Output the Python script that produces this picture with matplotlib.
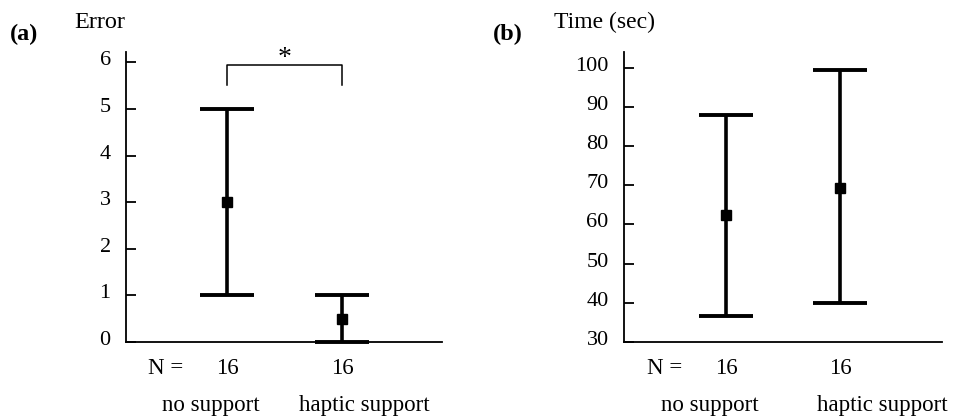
import matplotlib
matplotlib.use("Agg")
import matplotlib.pyplot as plt
import matplotlib.transforms as mtransforms

plt.rcParams['font.family'] = ['Liberation Serif', 'DejaVu Serif']

categories = ["no support", "haptic support"]
n_counts = [16, 16]

# Panel (a): Error
err_mean = [3.0, 0.5]
err_low = [1.0, 0.0]
err_high = [5.0, 1.0]
err_ticks = [0, 1, 2, 3, 4, 5, 6]

# Panel (b): Time (sec)
time_mean = [62.3, 69.2]
time_low = [36.7, 40.0]
time_high = [88.0, 99.5]
time_ticks = [30, 40, 50, 60, 70, 80, 90, 100]

W, H = 954, 418
fig = plt.figure(figsize=(W / 100, H / 100), dpi=100)

def px(x, y):
    return x / W, 1 - y / H

def setup(ax, ylim, ticks, xlim):
    ax.set_xlim(*xlim)
    ax.set_ylim(*ylim)
    ax.set_yticks(ticks)
    ax.set_xticks([])
    for s in ("top", "right"):
        ax.spines[s].set_visible(False)
    for s in ("left", "bottom"):
        ax.spines[s].set_linewidth(1.3)
    ax.tick_params(axis="y", direction="in", length=7, width=1.3,
                   labelsize=16, pad=11)
    off = mtransforms.ScaledTranslation(0, 4 / 100, fig.dpi_scale_trans)
    for lab in ax.get_yticklabels():
        lab.set_transform(lab.get_transform() + off)

def draw(ax, mean, low, high):
    xs = [1, 2]
    yerr = [[m - l for m, l in zip(mean, low)], [h - m for m, h in zip(mean, high)]]
    ax.errorbar(xs, mean, yerr=yerr, fmt="s", color="black", ms=7,
                elinewidth=2.6, capsize=19.5, capthick=2.8, clip_on=False)

# Panel (a)
ax1 = fig.add_axes([126 / W, 1 - 342 / H, 316 / W, 290 / H])
setup(ax1, (0, 6.22), err_ticks, (0.122, 2.87))
draw(ax1, err_mean, err_low, err_high)
ax1.plot([1, 1, 2, 2], [5.51, 5.94, 5.94, 5.51], color="black", lw=1.1, clip_on=False)
ax1.text(1.5, 6.08, "*", ha="center", va="center", fontsize=20)

# Panel (b)
ax2 = fig.add_axes([624 / W, 1 - 342 / H, 318 / W, 290 / H])
setup(ax2, (30, 104), time_ticks, (0.105, 2.895))
draw(ax2, time_mean, time_low, time_high)

fs = 16.5
# Titles / labels
fig.text(*px(10, 34), "(a)", fontsize=17.5, fontweight="bold", ha="left", va="center")
fig.text(*px(74, 22), "Error", fontsize=17.5, ha="left", va="center")
fig.text(*px(493, 34), "(b)", fontsize=17.5, fontweight="bold", ha="left", va="center")
fig.text(*px(554, 22), "Time (sec)", fontsize=17, ha="left", va="center")

# N rows and category labels
for ax, nx, cat_x in ((ax1, 148, (211, 364)), (ax2, 647, (710, 882))):
    fig.text(*px(nx, 369), "N =", fontsize=fs, ha="left", va="center")
    tr = mtransforms.blended_transform_factory(ax.transData, fig.transFigure)
    for i, n in enumerate(n_counts):
        ax.text(i + 1, 1 - 369 / H, str(n), transform=tr, fontsize=fs,
                ha="center", va="center")
    for cx, cat in zip(cat_x, categories):
        fig.text(*px(cx, 405), cat, fontsize=fs, ha="center", va="center")

fig.savefig("out.png", dpi=100)
